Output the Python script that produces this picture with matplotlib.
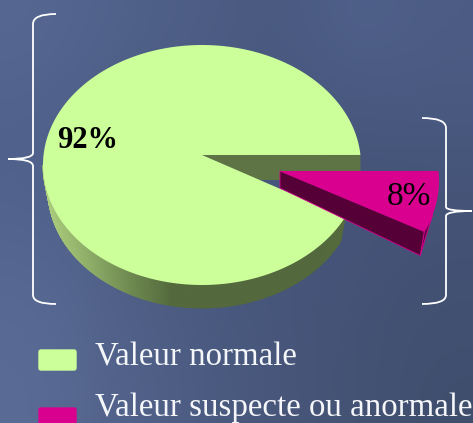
import numpy as np
import matplotlib
matplotlib.use("Agg")
import matplotlib.pyplot as plt
from matplotlib.collections import PolyCollection
from matplotlib.colors import LinearSegmentedColormap
from matplotlib.patches import FancyBboxPatch, PathPatch, Polygon
from matplotlib.path import Path

categories = ["Valeur normale", "Valeur suspecte ou anormale"]
values = [92, 8]
value_labels = ["92%", "8%"]
colors = ["#ccff99", "#d90090"]

W, H = 473, 423
fig = plt.figure(figsize=(W / 100, H / 100), dpi=100)
ax = fig.add_axes([0, 0, 1, 1])
ax.set_xlim(0, W)
ax.set_ylim(H, 0)
ax.axis("off")

# background
bg = np.array([
    [[86, 104, 146], [80, 98, 138], [78, 94, 134], [72, 88, 126], [80, 97, 140], [76, 92, 132]],
    [[80, 98, 140], [74, 90, 130], [72, 88, 128], [70, 86, 124], [70, 86, 124], [72, 88, 126]],
    [[82, 100, 142], [76, 92, 132], [72, 88, 126], [70, 85, 122], [68, 84, 120], [68, 83, 118]],
    [[88, 106, 148], [80, 96, 136], [74, 90, 128], [70, 85, 122], [68, 83, 118], [66, 80, 114]],
    [[90, 108, 150], [82, 98, 138], [76, 92, 130], [72, 86, 122], [68, 82, 116], [64, 78, 110]],
]) / 255
ax.imshow(bg, extent=(0, W, H, 0), aspect="auto", interpolation="bicubic", zorder=0)

# geometry of the pie
cx, cy, rx, ry = 202, 165, 159, 120
low_cy, low_rx, low_ry = 190, 154, 118
apex = np.array([202, 155])
t0 = -4.8
t1 = t0 + 360 * values[1] / sum(values) + 1.7
offset = np.array([78, 16])


def arc(a, b, n=200):
    t = np.radians(np.linspace(a, b, n))
    return np.column_stack([cx + rx * np.cos(t), cy + ry * np.sin(t)])


def low_arc(a, b, n=200):
    t = np.radians(np.linspace(a, b, n))
    return np.column_stack([cx + low_rx * np.cos(t), low_cy + low_ry * np.sin(t)])


# inner wall of the large slice
start = arc(t0, t0, 1)[0]
ax.add_patch(Polygon([apex, start, start + [0, 25], [258, 180]], fc="#5e7444", ec="none", zorder=2))

# outer wall of the large slice with shading
cmap = LinearSegmentedColormap.from_list("wall", ["#aacb7c", "#8fae68", "#6f8a50", "#54693c"])
pts = arc(t1, 180, 260)
low = low_arc(t1, 180, 260)
polys = [[pts[i], pts[i + 1], low[i + 1], low[i]] for i in range(len(pts) - 1)]
mid = (pts[:-1, 0] + pts[1:, 0]) / 2
shade = np.clip((mid - 45) / (172 - 45), 0, 1)
ax.add_collection(PolyCollection(polys, facecolors=cmap(shade), edgecolors=cmap(shade), linewidths=0.6, zorder=3))

# top face of the large slice
ax.add_patch(Polygon(np.vstack([apex, arc(t1, 360 + t0, 400)]), fc=colors[0], ec="none", zorder=4))

# exploded slice
a_pts = arc(t0, t1 - 0.8, 60) + offset
ap = apex + offset
dark = "#560038"
tip_low = a_pts[-1] + [-4, 24]
ax.add_patch(Polygon(np.vstack([a_pts[42:], tip_low]), fc="#6a0048", ec=colors[1], lw=0.6, zorder=5))
ax.add_patch(Polygon([ap, a_pts[-1], tip_low, ap + [0, 17]], fc=dark, ec=colors[1], lw=0.6, zorder=6))
ax.add_patch(Polygon(np.vstack([ap, a_pts]), fc=colors[1], ec="none", zorder=7))

# value labels
serif = ["Liberation Serif", "DejaVu Serif"]
ax.text(57, 148.5, value_labels[0], fontsize=22, fontweight="bold", family=serif, color="black", zorder=9)
ax.text(387, 205, value_labels[1], fontsize=24, family=serif, color="black", zorder=9)


# braces
def brace(points):
    codes = [Path.MOVETO] + [Path.CURVE3] * (len(points) - 1)
    ax.add_patch(PathPatch(Path(points, codes), fc="none", ec="white", lw=1.3, zorder=8))


brace([(56, 14), (33, 14), (33, 24), (33, 90), (33, 153), (33, 159), (8, 159),
       (33, 159), (33, 166), (33, 230), (33, 295), (33, 304), (56, 304)])
brace([(422, 118), (446, 118), (446, 128), (446, 170), (446, 207), (446, 211), (472, 211),
       (446, 211), (446, 216), (446, 260), (446, 295), (446, 304), (422, 304)])

# legend
legend_y = [349, 407]
text_y = [366, 416]
for col, ly, ty, name in zip(colors, legend_y, text_y, categories):
    ax.add_patch(FancyBboxPatch((39, ly + 1), 37, 20, boxstyle="round,pad=0,rounding_size=2",
                                fc=col, ec=col, lw=1, zorder=5))
    ax.text(95, ty, name, fontsize=23.7, family=serif, color="#f4f6fa", va="baseline", zorder=9)

fig.savefig("out.png", dpi=100)
